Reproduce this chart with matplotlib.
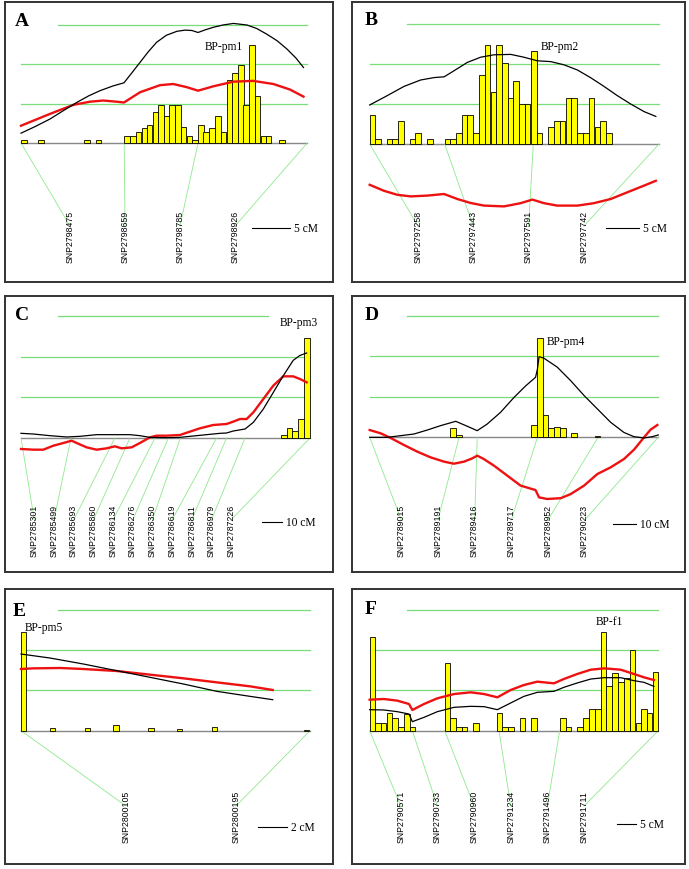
import matplotlib
matplotlib.use('Agg')
import matplotlib.pyplot as plt

W, H = 689, 870
GREEN = '#77dd77'
CONN = '#8fe88f'
YELLOW = '#ffff00'
RED = '#ee1111'

# ---------------- data (cM along linkage group, LOD-like units) ----------------
thresholds = [1, 2, 3]

# Panel A  BP-pm1
a_len = 38.0
a_bar_pos = [0.0, 2.3, 8.4, 9.9, 13.7, 14.5, 15.2, 16.0, 16.7, 17.5, 18.2, 19.0, 19.7, 20.5, 21.2,
             22.0, 22.7, 23.5, 24.2, 25.0, 25.8, 26.5, 27.3, 28.0, 28.8, 29.5, 30.3, 31.0, 31.8, 32.5, 34.3]
a_bar_h = [0.07, 0.07, 0.07, 0.07, 0.19, 0.19, 0.27, 0.38, 0.47, 0.78, 0.97, 0.69, 0.97, 0.97, 0.40,
           0.19, 0.07, 0.47, 0.27, 0.38, 0.68, 0.27, 1.59, 1.78, 1.98, 0.97, 2.49, 1.19, 0.19, 0.19, 0.07]
a_bar_w = 0.75
a_black_x = [0, 1.9, 3.85, 5.6, 7.39, 9.0, 10.49, 12.2, 13.67, 14.7, 15.8, 16.9, 18.0, 19.3, 20.7,
             21.8, 22.7, 23.5, 24.5, 25.5, 26.8, 28.2, 30.0, 31.3, 32.6, 34.0, 35.3, 36.5, 37.5]
a_black_y = [0.25, 0.42, 0.61, 0.82, 1.03, 1.20, 1.33, 1.45, 1.53, 1.78, 2.05, 2.32, 2.56, 2.74, 2.84,
             2.87, 2.86, 2.81, 2.88, 2.94, 3.0, 3.04, 3.0, 2.91, 2.77, 2.60, 2.39, 2.16, 1.92]
a_red_x = [0, 3.85, 6.95, 9.16, 10.9, 12.7, 13.67, 15.8, 18.45, 20.2, 22.0, 23.5, 25.5, 28.2, 30.8, 33.5, 35.7, 37.5]
a_red_y = [0.44, 0.74, 0.97, 1.05, 1.08, 1.05, 1.03, 1.29, 1.47, 1.50, 1.42, 1.33, 1.44, 1.56, 1.58, 1.50, 1.36, 1.18]
a_markers = [0, 13.7, 23.5, 38.0]
a_names = ['SNP2798475', 'SNP2798659', 'SNP2798785', 'SNP2798926']

# Panel B  BP-pm2
b_len = 44.3
b_bar_pos = [0.0, 0.82, 2.60, 3.47, 4.34, 6.17, 6.99, 8.78, 11.48, 12.35, 13.2, 14.08, 14.95, 15.82,
             16.73, 17.6, 18.5, 19.39, 20.26, 21.12, 21.99, 22.86, 23.72, 24.74, 25.56, 27.3, 28.2,
             29.08, 30.0, 30.87, 31.79, 32.65, 33.52, 34.44, 35.3, 36.17]
b_bar_h = [0.72, 0.12, 0.12, 0.12, 0.57, 0.12, 0.27, 0.12, 0.12, 0.12, 0.27, 0.72, 0.72, 0.27,
           1.73, 2.48, 1.29, 2.48, 2.03, 1.14, 1.58, 1.00, 1.00, 2.32, 0.27, 0.42, 0.57,
           0.57, 1.14, 1.14, 0.27, 0.27, 1.14, 0.42, 0.57, 0.27]
b_bar_w = 0.87
b_black_x = [0, 2.7, 5.26, 7.8, 9.85, 11.4, 12.9, 14.95, 16.99, 19.03, 21.6, 23.6, 25.66, 27.7, 29.74,
             31.8, 33.8, 35.87, 37.9, 39.95, 42.0, 43.8]
b_black_y = [0.975, 1.21, 1.44, 1.6, 1.66, 1.68, 1.83, 2.04, 2.17, 2.23, 2.24, 2.17, 2.08, 2.06, 1.98,
             1.85, 1.66, 1.44, 1.21, 1.0, 0.81, 0.69]
b_red_x = [0, 2.19, 4.23, 6.28, 8.83, 11.38, 13.42, 15.46, 17.5, 20.56, 23.1, 24.9, 26.7, 28.7, 31.8,
           34.3, 36.9, 39.4, 42.0, 43.8]
b_red_y = [-1.02, -1.17, -1.27, -1.31, -1.29, -1.25, -1.375, -1.475, -1.54, -1.56, -1.48, -1.39, -1.48,
           -1.54, -1.54, -1.48, -1.375, -1.21, -1.04, -0.92]
b_markers = [0, 11.48, 25.05, 44.3]
b_names = ['SNP2797258', 'SNP2797443', 'SNP2797591', 'SNP2797742']

# Panel C  BP-pm3
c_len = 142.1
c_bar_pos = [127.9, 130.7, 133.4, 136.4, 139.2]
c_bar_h = [0.08, 0.24, 0.16, 0.47, 2.45]
c_bar_w = 2.79
c_black_x = [0, 6.07, 14.26, 22.46, 29.0, 37.2, 45.4, 53.6, 58.5, 63.4, 71.6, 78.2, 84.7, 91.3, 97.9,
             101.1, 104.4, 110.2, 114.3, 119.2, 124.1, 129.0, 133.9, 137.2, 140.5]
c_black_y = [0.115, 0.098, 0.057, 0.025, 0.041, 0.082, 0.082, 0.082, 0.057, 0.016, 0.008, 0.016, 0.049,
             0.082, 0.115, 0.123, 0.172, 0.221, 0.385, 0.713, 1.12, 1.53, 1.91, 2.03, 2.09]
c_red_x = [0, 6.07, 10.98, 15.9, 20.8, 24.9, 27.4, 32.3, 37.2, 42.1, 46.2, 49.5, 54.4, 58.5, 63.4, 66.7,
           71.6, 78.2, 83.1, 88.0, 94.6, 101.1, 104.4, 107.7, 111.0, 114.3, 119.2, 124.1, 129.0, 133.9,
           137.2, 140.5]
c_red_y = [-0.27, -0.287, -0.287, -0.189, -0.123, -0.066, -0.123, -0.23, -0.287, -0.254, -0.205, -0.254,
           -0.23, -0.123, 0.016, 0.057, 0.057, 0.074, 0.156, 0.238, 0.32, 0.344, 0.402, 0.467, 0.467,
           0.631, 0.959, 1.287, 1.516, 1.516, 1.451, 1.369]
c_markers = [0, 24.6, 46.2, 53.6, 65.9, 72.5, 78.4, 96.2, 101.1, 110.2, 142.1]
c_names = ['SNP2785301', 'SNP2785499', 'SNP2785693', 'SNP2785860', 'SNP2786134', 'SNP2786276',
           'SNP2786350', 'SNP2786619', 'SNP2786811', 'SNP2786979', 'SNP2787226']

# Panel D  BP-pm4
d_len = 123.7
d_bar_pos = [34.4, 37.1, 69.3, 71.9, 74.1, 76.6, 79.1, 81.6, 86.4, 96.4]
d_bar_h = [0.22, 0.066, 0.30, 2.44, 0.55, 0.22, 0.26, 0.22, 0.107, 0.04]
d_bar_w = 2.43
d_black_x = [0, 7.57, 13.29, 19.0, 24.7, 30.4, 36.9, 41.9, 46.1, 50.4, 56.1, 61.9, 66.9, 71.1, 71.9,
             72.6, 74.7, 80.4, 86.1, 91.9, 97.6, 103.3, 109.0, 113.3, 117.6, 121.1, 123.7]
d_black_y = [0, 0, 0.041, 0.082, 0.18, 0.288, 0.395, 0.271, 0.164, 0.329, 0.616, 0.986, 1.27, 1.48,
             1.68, 1.99, 1.95, 1.73, 1.4, 1.03, 0.70, 0.37, 0.12, 0.016, -0.016, 0.016, 0.058]
d_red_x = [0, 4.71, 9.0, 14.7, 20.4, 26.1, 31.9, 36.1, 40.4, 44.0, 46.1, 48.9, 53.3, 59.0, 64.7, 71.1,
           72.6, 76.1, 81.9, 86.1, 91.9, 97.6, 103.3, 109.0, 113.3, 117.6, 120.4, 123.3]
d_red_y = [0.18, 0.099, -0.016, -0.189, -0.353, -0.493, -0.6, -0.65, -0.6, -0.518, -0.452, -0.534,
           -0.699, -0.945, -1.19, -1.3, -1.48, -1.52, -1.50, -1.40, -1.19, -0.904, -0.74, -0.534,
           -0.304, 0, 0.189, 0.304]
d_markers = [0, 38.3, 46.1, 71.9, 97.9, 123.7]
d_names = ['SNP2789015', 'SNP2789191', 'SNP2789416', 'SNP2789717', 'SNP2789952', 'SNP2790223']

# Panel E  BP-pm5
e_len = 19.93
e_bar_pos = [0, 2.0, 4.41, 6.37, 8.78, 10.74, 13.15, 19.52]
e_bar_h = [2.46, 0.066, 0.066, 0.14, 0.066, 0.04, 0.1, 0.025]
e_bar_w = 0.36
e_black_x = [0, 2.0, 4.3, 6.6, 8.9, 11.2, 13.5, 15.8, 17.36]
e_black_y = [1.905, 1.806, 1.657, 1.491, 1.326, 1.16, 0.978, 0.853, 0.77]
e_red_x = [0, 0.85, 2.69, 4.3, 6.6, 8.9, 11.2, 13.5, 15.8, 17.36]
e_red_y = [1.533, 1.549, 1.558, 1.533, 1.483, 1.392, 1.301, 1.201, 1.102, 1.011]
e_markers = [0, 19.93]
e_names = ['SNP2800105', 'SNP2800195']

# Panel F  BP-f1
f_len = 75.96
f_bar_pos = [0, 1.40, 2.89, 4.47, 5.96, 7.46, 9.04, 10.53, 19.74, 21.23, 22.72, 24.21, 27.28, 33.4,
             34.91, 36.4, 39.47, 42.54, 50.09, 51.58, 54.65, 56.23, 57.8, 59.3, 60.79, 62.28, 63.86,
             65.35, 66.93, 68.42, 69.96, 71.45, 72.95, 74.53]
f_bar_h = [2.336, 0.19, 0.19, 0.43, 0.315, 0.083, 0.414, 0.083, 1.674, 0.315, 0.083, 0.083, 0.19, 0.43,
           0.083, 0.083, 0.315, 0.315, 0.315, 0.083, 0.083, 0.315, 0.539, 0.539, 2.46, 1.102, 1.433,
           1.2, 1.318, 2.005, 0.19, 0.539, 0.43, 1.45]
f_bar_w = 1.45
f_black_x = [0, 3.77, 7.28, 10.35, 11.23, 14.3, 17.8, 22.2, 26.6, 30.1, 33.6, 37.1, 40.6, 44.1, 48.5,
             51.1, 54.6, 58.2, 61.7, 66.05, 69.56, 72.2, 74.8]
f_black_y = [0.522, 0.514, 0.472, 0.414, 0.224, 0.331, 0.472, 0.58, 0.605, 0.597, 0.522, 0.688, 0.853,
             0.953, 0.978, 1.077, 1.185, 1.284, 1.317, 1.317, 1.243, 1.201, 1.102]
f_red_x = f_black_x
f_red_y = [0.77, 0.787, 0.746, 0.663, 0.514, 0.663, 0.804, 0.911, 0.953, 0.911, 0.829, 1.011, 1.135,
           1.218, 1.177, 1.284, 1.408, 1.516, 1.549, 1.516, 1.408, 1.326, 1.259]
f_markers = [0, 11.23, 19.74, 34.04, 50.0, 75.96]
f_names = ['SNP2790571', 'SNP2790733', 'SNP2790960', 'SNP2791234', 'SNP2791496', 'SNP2791711']

# ---------------- layout (pixels) ----------------
panels = [
    dict(letter='A', title='BP-pm1', scale=5, L=a_len, bp=a_bar_pos, bh=a_bar_h, bw=a_bar_w,
         kx=a_black_x, ky=a_black_y, rx=a_red_x, ry=a_red_y, mk=a_markers, nm=a_names,
         frame=(5, 3, 333, 283), x0=21, pxc=7.533, yb=144, u=39.33,
         top=(58, 307.3), lab0=70, labstep=55, labbot=263, title_xy=(205, 47),
         letter_xy=(15, 22), sbar=(252, 229)),
    dict(letter='B', title='BP-pm2', scale=5, L=b_len, bp=b_bar_pos, bh=b_bar_h, bw=b_bar_w,
         kx=b_black_x, ky=b_black_y, rx=b_red_x, ry=b_red_y, mk=b_markers, nm=b_names,
         frame=(352, 3, 685, 283), x0=369.67, pxc=6.533, yb=145, u=40,
         top=(407.3, 659), lab0=418, labstep=55.3, labbot=263, title_xy=(541, 47),
         letter_xy=(365, 21), sbar=(606, 229)),
    dict(letter='C', title='BP-pm3', scale=10, L=c_len, bp=c_bar_pos, bh=c_bar_h, bw=c_bar_w,
         kx=c_black_x, ky=c_black_y, rx=c_red_x, ry=c_red_y, mk=c_markers, nm=c_names,
         frame=(5, 297, 333, 573), x0=21, pxc=2.033, yb=439, u=40.67,
         top=(58, 268), lab0=34.3, labstep=19.67, labbot=557, title_xy=(280, 323),
         letter_xy=(15, 316), sbar=(262, 523)),
    dict(letter='D', title='BP-pm4', scale=10, L=d_len, bp=d_bar_pos, bh=d_bar_h, bw=d_bar_w,
         kx=d_black_x, ky=d_black_y, rx=d_red_x, ry=d_red_y, mk=d_markers, nm=d_names,
         frame=(352, 297, 685, 573), x0=369.67, pxc=2.333, yb=438.33, u=40.57,
         top=(406.7, 658.3), lab0=401.3, labstep=36.67, labbot=557, title_xy=(547, 342),
         letter_xy=(365, 316), sbar=(613, 525)),
    dict(letter='E', title='BP-pm5', scale=2, L=e_len, bp=e_bar_pos, bh=e_bar_h, bw=e_bar_w,
         kx=e_black_x, ky=e_black_y, rx=e_red_x, ry=e_red_y, mk=e_markers, nm=e_names,
         frame=(5, 590, 333, 865), x0=21, pxc=14.5, yb=731.67, u=40.23,
         top=(58, 310), lab0=126, labstep=110, labbot=843, title_xy=(25, 628),
         letter_xy=(13, 612), sbar=(258, 828)),
    dict(letter='F', title='BP-f1', scale=5, L=f_len, bp=f_bar_pos, bh=f_bar_h, bw=f_bar_w,
         kx=f_black_x, ky=f_black_y, rx=f_red_x, ry=f_red_y, mk=f_markers, nm=f_names,
         frame=(352, 590, 685, 865), x0=369.67, pxc=3.8, yb=731.67, u=40.23,
         top=(406.7, 658.3), lab0=400.7, labstep=36.67, labbot=843, title_xy=(596, 622),
         letter_xy=(365, 610), sbar=(617, 825)),
]

fig = plt.figure(figsize=(W / 100, H / 100), dpi=100)
fig.patch.set_facecolor('white')

for p in panels:
    l, t, r, b = p['frame']
    x0, pxc, yb, u = p['x0'], p['pxc'], p['yb'], p['u']
    dx = lambda px: (px - x0) / pxc
    dy = lambda py: (yb - py) / u
    ax = fig.add_axes([l / W, 1 - b / H, (r - l) / W, (b - t) / H])
    ax.set_xlim(dx(l), dx(r))
    ax.set_ylim(dy(b), dy(t))
    ax.set_xticks([])
    ax.set_yticks([])
    for s in ax.spines.values():
        s.set_color('#333333')
        s.set_linewidth(1.4)

    L = p['L']
    # threshold lines
    for i, th in enumerate(thresholds):
        if i == len(thresholds) - 1:
            xa, xb = dx(p['top'][0]), dx(p['top'][1])
        else:
            xa, xb = 0, L
        ax.plot([xa, xb], [th, th], color=GREEN, lw=0.9, zorder=1)
    # chromosome baseline
    ax.plot([0, L], [0, 0], color='#888888', lw=1.0, zorder=2)
    # bars
    ax.bar(p['bp'], p['bh'], width=p['bw'], align='edge', color=YELLOW,
           edgecolor='black', linewidth=0.6, zorder=3)
    # curves
    ax.plot(p['kx'], p['ky'], color='black', lw=0.9, zorder=5, solid_joinstyle='round')
    ax.plot(p['rx'], p['ry'], color=RED, lw=1.7, zorder=4, solid_joinstyle='round')
    # markers, connectors and labels
    for i, (m, name) in enumerate(zip(p['mk'], p['nm'])):
        lx = p['lab0'] + i * p['labstep']
        ax.plot([m, dx(lx)], [0, dy(p['labbot'] - 36)], color=CONN, lw=0.6, zorder=2, clip_on=False)
        ax.text(dx(lx), dy(p['labbot']), name, rotation=90, ha='center', va='bottom',
                fontsize=6.3, family='Liberation Sans', color='black', zorder=6)
    # title
    ax.text(dx(p['title_xy'][0]), dy(p['title_xy'][1]), p['title'], ha='left', va='center',
            fontsize=8.3, family='Liberation Serif', zorder=7)
    # panel letter
    ax.text(dx(p['letter_xy'][0]), dy(p['letter_xy'][1]), p['letter'], ha='left', va='center',
            fontsize=14, fontweight='bold', family='Liberation Serif', zorder=7)
    # scale bar
    sx, sy = p['sbar']
    ax.plot([dx(sx), dx(sx) + p['scale']], [dy(sy), dy(sy)], color='black', lw=0.8)
    ax.text(dx(sx) + p['scale'] + 4 / pxc, dy(sy), f"{p['scale']} cM", ha='left', va='center',
            fontsize=8.3, family='Liberation Serif')

fig.savefig('out.png', dpi=100, facecolor='white')
